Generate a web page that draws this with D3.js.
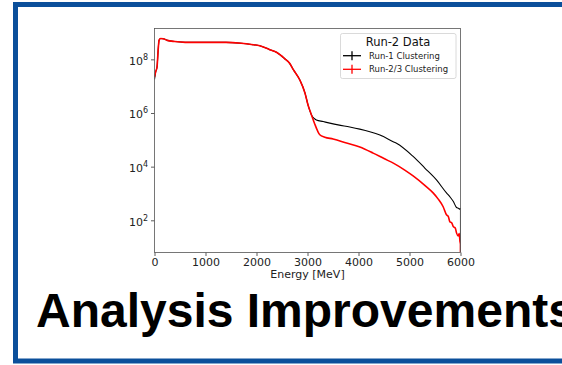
<!DOCTYPE html>
<html><head><meta charset="utf-8">
<script src="https://cdn.jsdelivr.net/npm/d3@7"></script>
<style>html,body{margin:0;padding:0;background:#fff;overflow:hidden}</style>
</head><body>
<svg id="c" width="562" height="365"></svg>
<script>
// ---- data ----
const xTicks = [0, 1000, 2000, 3000, 4000, 5000, 6000];
const yTicks = [1e2, 1e4, 1e6, 1e8];
const legendTitle = "Run-2 Data";
const seriesNames = ["Run-1 Clustering", "Run-2/3 Clustering"];
const seriesColors = ["#000000", "#ff0000"];
const xLabel = "Energy [MeV]";
const slideTitle = "Analysis Improvements";

const energyRun1 = [0, 20, 50, 70, 90, 120, 170, 250, 400, 600, 1000, 1400, 1700, 1900, 2065, 2260, 2400, 2555, 2650, 2720, 2850, 2950, 3010, 3078, 3130, 3174, 3307, 3437, 3600, 3829, 4025, 4222, 4420, 4680, 4745, 5071, 5300, 5529, 5725, 5790, 5860, 5922, 5960, 5990, 6000];
const countsRun1 = [1.8e7, 3.2e7, 5.2e7, 2.0e8, 5.2e8, 6.0e8, 5.9e8, 5.1e8, 4.6e8, 4.3e8, 4.3e8, 4.3e8, 4.0e8, 3.6e8, 3.2e8, 2.3e8, 1.8e8, 1.05e8, 7.1e7, 4.2e7, 1.7e7, 5.6e6, 2.0e6, 8.5e5, 6.3e5, 5.5e5, 4.8e5, 4.2e5, 3.6e5, 3.0e5, 2.5e5, 2.0e5, 1.5e5, 8.5e4, 7.4e4, 2.4e4, 8.9e3, 3.2e3, 1.05e3, 7.6e2, 5.0e2, 3.0e2, 2.8e2, 2.6e2, 2.9e2];

const energyRun23 = [0, 20, 50, 70, 90, 120, 170, 250, 400, 600, 1000, 1400, 1700, 1900, 2065, 2260, 2400, 2555, 2650, 2720, 2850, 2950, 3010, 3078, 3140, 3200, 3241, 3339, 3502, 3765, 4025, 4287, 4500, 4700, 4900, 5071, 5300, 5463, 5560, 5660, 5725, 5760, 5791, 5830, 5856, 5900, 5922, 5954, 5975, 5990, 6000];
const countsRun23 = [2.2e7, 3.3e7, 5.3e7, 2.0e8, 5.2e8, 6.0e8, 5.9e8, 5.1e8, 4.6e8, 4.3e8, 4.3e8, 4.3e8, 4.0e8, 3.6e8, 3.2e8, 2.3e8, 1.8e8, 1.05e8, 7.1e7, 4.2e7, 1.7e7, 5.6e6, 2.0e6, 8.5e5, 4.0e5, 2.1e5, 1.55e5, 1.26e5, 1.07e5, 7.6e4, 5.4e4, 3.2e4, 2.0e4, 1.3e4, 7.6e3, 4.5e3, 2.0e3, 1.05e3, 6.3e2, 3.2e2, 1.6e2, 1.4e2, 8.9e1, 7.9e1, 6.0e1, 5.0e1, 3.4e1, 2.6e1, 3.2e1, 1.6e1, 1.4e1];

// ---- layout ----
const svg = d3.select("#c");
const W = 562, H = 365;
svg.append("rect").attr("width", W).attr("height", H).attr("fill", "#fff");

// slide frame
svg.append("rect").attr("x", 15.5).attr("y", 4.5).attr("width", 620).attr("height", 356.5)
  .attr("fill", "none").attr("stroke", "#0b4f9b").attr("stroke-width", 5);

const plot = {left: 154.5, right: 460.5, top: 28.5, bottom: 252.5};
const x = d3.scaleLinear().domain([0, 6000]).range([plot.left, plot.right]);
const y = d3.scaleLog().domain([Math.pow(10, 0.8), Math.pow(10, 9.15)]).range([plot.bottom, plot.top]);

svg.append("clipPath").attr("id", "clip").append("rect")
  .attr("x", plot.left).attr("y", plot.top).attr("width", plot.right - plot.left).attr("height", plot.bottom - plot.top);

const line = d3.line().x(d => x(d[0])).y(d => y(d[1])).curve(d3.curveMonotoneX);
const g = svg.append("g").attr("clip-path", "url(#clip)");
const series = [[energyRun1, countsRun1], [energyRun23, countsRun23]];
const widths = [1.1, 1.6];
series.forEach((s, i) => {
  const pts = s[0].map((e, k) => [e, s[1][k]]);
  g.append("path").attr("d", line(pts)).attr("fill", "none")
    .attr("stroke", seriesColors[i]).attr("stroke-width", widths[i]).attr("stroke-linejoin", "round");
  // closing histogram edge at last bin
  const last = pts[pts.length - 1];
  g.append("line").attr("x1", x(last[0])).attr("x2", x(last[0]))
    .attr("y1", y(last[1])).attr("y2", plot.bottom)
    .attr("stroke", seriesColors[i]).attr("stroke-width", widths[i]);
});

// axes
const fontTick = "'DejaVu Sans', sans-serif";
const xa = svg.append("g").attr("transform", `translate(0,${plot.bottom})`)
  .call(d3.axisBottom(x).tickValues(xTicks).tickSize(3.5).tickPadding(2).tickFormat(d3.format("d")));
const ya = svg.append("g").attr("transform", `translate(${plot.left},0)`)
  .call(d3.axisLeft(y).tickValues(yTicks).tickSize(3.5).tickPadding(3).tickFormat(() => ""));
[xa, ya].forEach(a => {
  a.select(".domain").remove();
  a.selectAll("line").attr("stroke", "#333").attr("stroke-width", 0.8);
  a.selectAll("text").attr("font-family", fontTick).attr("font-size", 11).attr("fill", "#222");
});
ya.selectAll(".tick text").each(function(d) {
  const t = d3.select(this);
  t.text("");
  t.append("tspan").text("10");
  t.append("tspan").attr("dy", -5).attr("font-size", 8).text(Math.round(Math.log10(d)));
}).attr("dy", "0.45em");

// frame (spines)
svg.append("rect").attr("x", plot.left).attr("y", plot.top)
  .attr("width", plot.right - plot.left).attr("height", plot.bottom - plot.top)
  .attr("fill", "none").attr("stroke", "#555").attr("stroke-width", 0.8);

svg.append("text").attr("x", (plot.left + plot.right) / 2).attr("y", 278)
  .attr("text-anchor", "middle").attr("font-family", fontTick).attr("font-size", 11)
  .attr("fill", "#222").text(xLabel);

// legend
const lg = svg.append("g");
lg.append("rect").attr("x", 340.5).attr("y", 33.5).attr("width", 115.5).attr("height", 45).attr("rx", 2)
  .attr("fill", "#fff").attr("fill-opacity", 0.8).attr("stroke", "#d0d0d0").attr("stroke-width", 0.8);
lg.append("text").attr("x", 398).attr("y", 45.5).attr("text-anchor", "middle")
  .attr("font-family", fontTick).attr("font-size", 11.5).attr("fill", "#111").text(legendTitle);
seriesNames.forEach((name, i) => {
  const cy = 55.7 + i * 13.6;
  lg.append("line").attr("x1", 343).attr("x2", 361).attr("y1", cy).attr("y2", cy)
    .attr("stroke", seriesColors[i]).attr("stroke-width", 1.3);
  lg.append("line").attr("x1", 352).attr("x2", 352).attr("y1", cy - 4.5).attr("y2", cy + 4.5)
    .attr("stroke", seriesColors[i]).attr("stroke-width", 1.3);
  lg.append("text").attr("x", 369).attr("y", cy + 3).attr("font-family", fontTick)
    .attr("font-size", 8.5).attr("fill", "#222").text(name);
});

// slide title (cut off at the right edge, as in the reference)
svg.append("text").attr("x", 36).attr("y", 327)
  .attr("font-family", "'Liberation Sans', Arial, sans-serif").attr("font-weight", "bold")
  .attr("font-size", 48).attr("fill", "#000").text(slideTitle);
</script>
</body></html>
